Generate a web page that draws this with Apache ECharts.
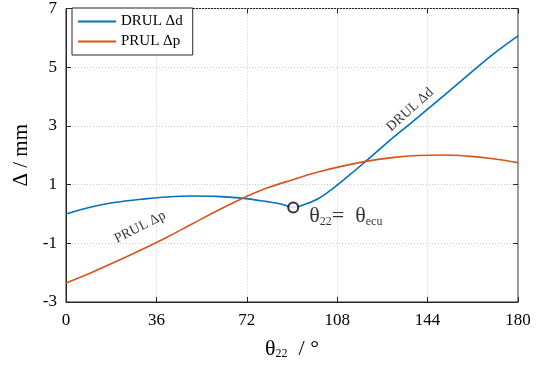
<!DOCTYPE html>
<html>
<head>
<meta charset="utf-8">
<script src="https://cdn.jsdelivr.net/npm/echarts@6/dist/echarts.min.js"></script>
<style>
html,body{margin:0;padding:0;background:#fff;}
#chart{width:538px;height:365px;}
</style>
</head>
<body>
<div id="chart"></div>
<script>
// DRUL Δd curve
var drulX = [0, 10, 20, 30, 40, 50, 60, 70, 80, 86, 90.5, 95, 100, 104, 108, 112, 120, 130, 136, 144, 150, 161, 170, 180];
var drulY = [0, 0.24, 0.4, 0.5, 0.58, 0.61, 0.6, 0.54, 0.42, 0.33, 0.22, 0.32, 0.5, 0.72, 0.98, 1.26, 1.84, 2.58, 3.0, 3.57, 4.0, 4.8, 5.44, 6.07];
// PRUL Δp curve
var prulX = [0, 10, 20, 30, 40, 50, 60, 70, 80, 90, 100, 110, 120, 130, 140, 150, 160, 170, 180];
var prulY = [-2.35, -2.0, -1.62, -1.22, -0.8, -0.35, 0.1, 0.52, 0.88, 1.16, 1.42, 1.63, 1.8, 1.92, 1.99, 2.01, 1.97, 1.88, 1.75];
// θ22 = θecu point
var ecuPoint = [90.5, 0.22];
// in-plot curve labels: x, y, text, angle
var curveLabels = [[137, 3.55, 'DRUL Δd', 42], [29.5, -0.45, 'PRUL Δp', 27]];
var xTicks = [0, 36, 72, 108, 144, 180];
var yTicks = [-3, -1, 1, 3, 5, 7];

function pairs(xs, ys) {
    return xs.map(function (x, i) { return [x, ys[i]]; });
}

var serif = '"Liberation Serif","DejaVu Serif",serif';
var chart = echarts.init(document.getElementById('chart'));

var gridLine = {show: true, lineStyle: {color: '#c8c8c8', type: [1, 2], width: 1}};
var tick = {show: true, inside: true, length: 5, lineStyle: {color: '#262626'}};
var richSub = {
    t: {fontFamily: serif, fontSize: 22, color: '#000', verticalAlign: 'bottom', lineHeight: 24},
    s: {fontFamily: serif, fontSize: 12, color: '#000', verticalAlign: 'bottom', lineHeight: 14, padding: [10, 0, 0, 0]}
};

chart.setOption({
    animation: false,
    backgroundColor: '#fff',
    textStyle: {fontFamily: serif},
    grid: {left: 66, right: 20, top: 5, bottom: 60, show: true, borderColor: '#262626', borderWidth: 1},
    legend: {
        left: 72, top: 8, orient: 'vertical',
        backgroundColor: '#fff', borderColor: '#262626', borderWidth: 1,
        padding: [6, 10, 6, 6], itemGap: 5,
        icon: 'rect', itemWidth: 38, itemHeight: 2,
        textStyle: {fontFamily: serif, fontSize: 15, color: '#000'},
        data: ['DRUL Δd', 'PRUL Δp']
    },
    xAxis: [{
        type: 'value', min: xTicks[0], max: xTicks[xTicks.length - 1], interval: 36,
        axisLine: {onZero: false, lineStyle: {color: '#262626'}},
        axisTick: tick,
        axisLabel: {fontFamily: serif, fontSize: 17, color: '#000', margin: 10},
        splitLine: gridLine,
        name: '{t|θ}{s|22}{t|  / °}', nameLocation: 'middle', nameGap: 34,
        nameTextStyle: {rich: richSub}
    }, {
        type: 'value', position: 'top', min: 0, max: 180, interval: 36,
        axisLine: {show: false, onZero: false}, axisLabel: {show: false}, splitLine: {show: false},
        axisTick: tick
    }],
    yAxis: [{
        type: 'value', min: yTicks[0], max: yTicks[yTicks.length - 1], interval: 2,
        axisLine: {show: true, onZero: false, lineStyle: {color: '#262626'}},
        axisTick: tick,
        axisLabel: {fontFamily: serif, fontSize: 17, color: '#000', margin: 9},
        splitLine: gridLine,
        name: 'Δ / mm', nameLocation: 'middle', nameGap: 34, nameRotate: 90,
        nameTextStyle: {fontFamily: serif, fontSize: 21, color: '#000'}
    }, {
        type: 'value', position: 'right', min: -3, max: 7, interval: 2,
        axisLine: {show: false, onZero: false}, axisLabel: {show: false}, splitLine: {show: false},
        axisTick: tick
    }],
    series: [{
        name: 'DRUL Δd', type: 'line', smooth: 0.35, showSymbol: false,
        color: '#0072BD', lineStyle: {width: 1.6},
        data: pairs(drulX, drulY)
    }, {
        name: 'PRUL Δp', type: 'line', smooth: 0.4, showSymbol: false,
        color: '#D95319', lineStyle: {width: 1.6},
        data: pairs(prulX, prulY)
    }, {
        type: 'scatter', symbol: 'circle', symbolSize: 10, z: 5,
        itemStyle: {color: '#fff', borderColor: '#000', borderWidth: 2},
        label: {
            show: true, position: 'right', distance: 10, offset: [0, 8],
            formatter: '{t|θ}{s|22}{t|=  θ}{s|ecu}',
            rich: richSub
        },
        data: [ecuPoint]
    }, {
        type: 'scatter', symbolSize: 0, silent: true,
        data: curveLabels.map(function (c) {
            return {
                value: [c[0], c[1]],
                label: {
                    show: true, position: 'inside', rotate: c[3], formatter: c[2],
                    fontFamily: serif, fontSize: 14, color: '#000', textBorderWidth: 0
                }
            };
        })
    }]
});
</script>
</body>
</html>
